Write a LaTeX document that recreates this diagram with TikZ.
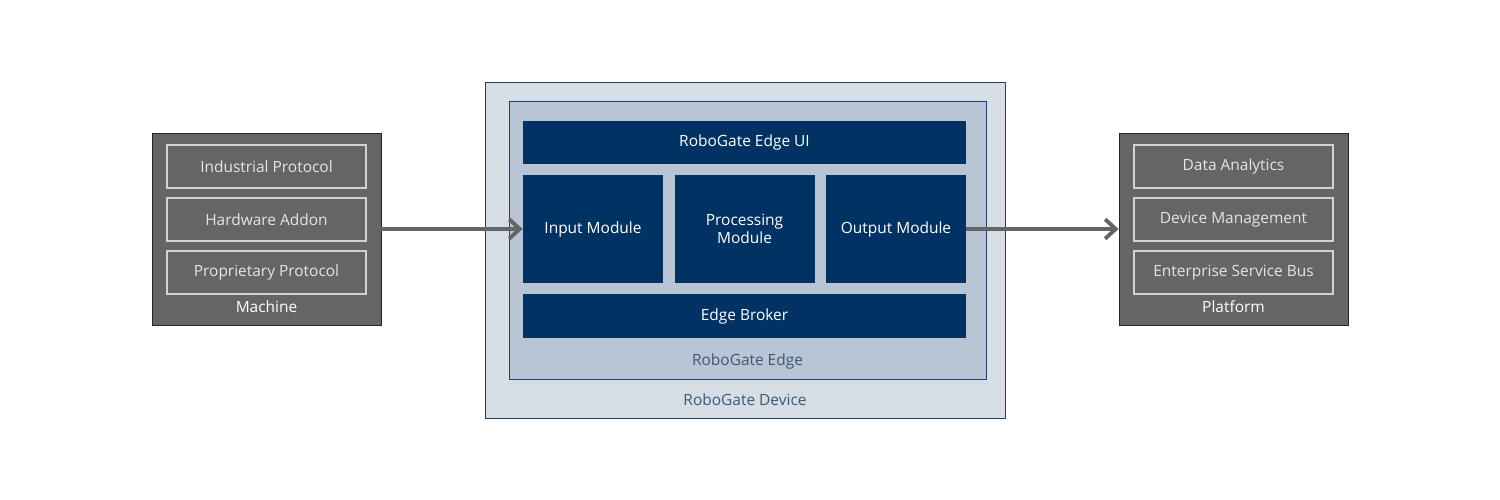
\documentclass[tikz,border=0pt]{standalone}
\usepackage{fontspec}
\setmainfont{Open Sans}
\usetikzlibrary{positioning, arrows.meta, calc}
\definecolor{slate}{HTML}{656565}
\definecolor{navy}{HTML}{003363}
\definecolor{navyline}{HTML}{1F3F74}
\definecolor{devicefill}{HTML}{D6DDE5}
\definecolor{edgefill}{HTML}{B9C5D4}
\definecolor{caption}{HTML}{3B5878}

\begin{document}
\begin{tikzpicture}[
  font=\fontsize{8.8}{10.5}\selectfont,
  outer/.style={
    draw=black!85, fill=slate, line width=0.5pt, minimum width=4.58cm, minimum height=3.84cm
  },
  part/.style={
    draw=gray!35, fill=slate, line width=0.6pt, text=gray!20,
    minimum width=3.98cm, minimum height=0.86cm, inner sep=0pt
  },
  outerlabel/.style={text=white},
  frame/.style={draw=navyline, line width=0.5pt},
  block/.style={fill=navy, text=white, inner sep=0pt, align=center},
  bar/.style={block, minimum width=8.86cm, minimum height=0.87cm},
  module/.style={block, minimum width=2.8cm, minimum height=2.16cm},
  framelabel/.style={text=caption},
  flow/.style={-{Straight Barb[length=6pt, width=11pt]}, line width=2.2pt, draw=slate},
]

\useasboundingbox (0,0) rectangle (30,10);

% machine side
\node[outer] (machine) at (5.33,5.42) {};
\node[part] (indprot) at (5.33,6.67) {Industrial Protocol};
\node[part] (hwaddon) at (5.33,5.61) {Hardware Addon};
\node[part] (propprot) at (5.33,4.55) {Proprietary Protocol};
\node[outerlabel] (machinelbl) at (5.33,3.86) {Machine};

% platform side
\node[outer] (platform) at (24.67,5.42) {};
\node[part] (analytics) at (24.67,6.67) {Data Analytics};
\node[part] (devmgmt) at (24.67,5.61) {Device Management};
\node[part] (esb) at (24.67,4.55) {Enterprise Service Bus};
\node[outerlabel] (platformlbl) at (24.67,3.86) {Platform};

% device and edge
\node[frame, fill=devicefill, minimum width=10.4cm, minimum height=6.72cm] (device) at (14.9,5.0) {};
\node[frame, fill=edgefill, minimum width=9.54cm, minimum height=5.56cm] (edge) at (14.95,5.2) {};
\node[bar] (ui) at (14.89,7.15) {RoboGate Edge UI};
\node[module] (input) at (11.86,5.42) {Input Module};
\node[module] (processing) at (14.89,5.42) {Processing\\Module};
\node[module] (output) at (17.92,5.42) {Output Module};
\node[bar] (broker) at (14.89,3.68) {Edge Broker};
\node[framelabel] (edgelbl) at (14.95,2.78) {RoboGate Edge};
\node[framelabel] (devicelbl) at (14.9,2.0) {RoboGate Device};

\draw[flow] (machine.east) -- (input.west);
\draw[flow] (output.east) -- (platform.west);

\end{tikzpicture}
\end{document}
